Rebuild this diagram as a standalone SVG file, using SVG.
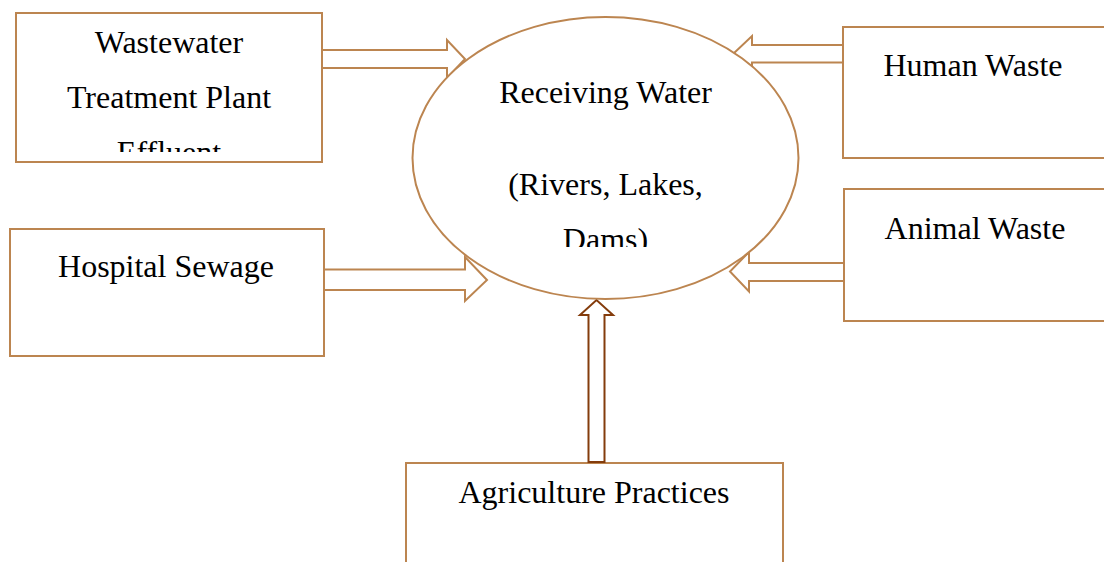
<svg xmlns="http://www.w3.org/2000/svg" width="1104" height="562" viewBox="0 0 1104 562">
<style>
.box{fill:#fff;stroke:#BC8550;stroke-width:2}
.arr{fill:#fff;stroke:#BC8550;stroke-width:2;stroke-linejoin:miter}
.arr2{fill:#fff;stroke:#843C0C;stroke-width:2;stroke-linejoin:miter}
.t{font-family:"Liberation Serif","Times New Roman",serif;font-size:32px;fill:#000;text-anchor:middle}
</style>
<defs>
<clipPath id="clipW"><rect x="16" y="13" width="306" height="139"/></clipPath>
<clipPath id="clipR"><rect x="413" y="17" width="386" height="230"/></clipPath>
</defs>
<rect width="1104" height="562" fill="#fff"/>
<g id="wastewater">
<rect class="box" x="16" y="13" width="306" height="149"/>
<g clip-path="url(#clipW)">
<text class="t" x="169" y="53">Wastewater</text>
<text class="t" x="169" y="108">Treatment Plant</text>
<text class="t" x="169" y="163">Effluent</text>
</g>
</g>
<g id="human">
<rect class="box" x="843" y="27" width="262" height="131"/>
<text class="t" x="973" y="76">Human Waste</text>
</g>
<g id="animal">
<rect class="box" x="844" y="189" width="262" height="132"/>
<text class="t" x="975" y="239">Animal Waste</text>
</g>
<g id="hospital">
<rect class="box" x="10" y="229" width="314" height="127"/>
<text class="t" x="166" y="277">Hospital Sewage</text>
</g>
<g id="agriculture">
<rect class="box" x="406" y="463" width="377" height="110"/>
<text class="t" x="594" y="503">Agriculture Practices</text>
</g>
<g id="connectors">
<polygon class="arr" points="322,50 447,50 447,40 465,59 447,78 447,68 322,68"/>
<polygon class="arr" points="843,45 752,45 752,36 733,54 752,72 752,62.5 843,62.5"/>
<polygon class="arr" points="844,263 749,263 749,252 730,271.5 749,291.5 749,281 844,281"/>
<polygon class="arr" points="324,269.5 465,269.5 465,257 487,280 465,301 465,290 324,290"/>
<polygon class="arr2" points="588.5,462 588.5,315 580,315 596.5,300 613,315 604.5,315 604.5,462"/>
</g>
<g id="receiving">
<ellipse class="box" cx="605.5" cy="158" rx="193" ry="141"/>
<g clip-path="url(#clipR)">
<text class="t" x="605.5" y="103">Receiving Water</text>
<text class="t" x="605.5" y="195">(Rivers, Lakes,</text>
<text class="t" x="605.5" y="250">Dams)</text>
</g>
</g>
</svg>
